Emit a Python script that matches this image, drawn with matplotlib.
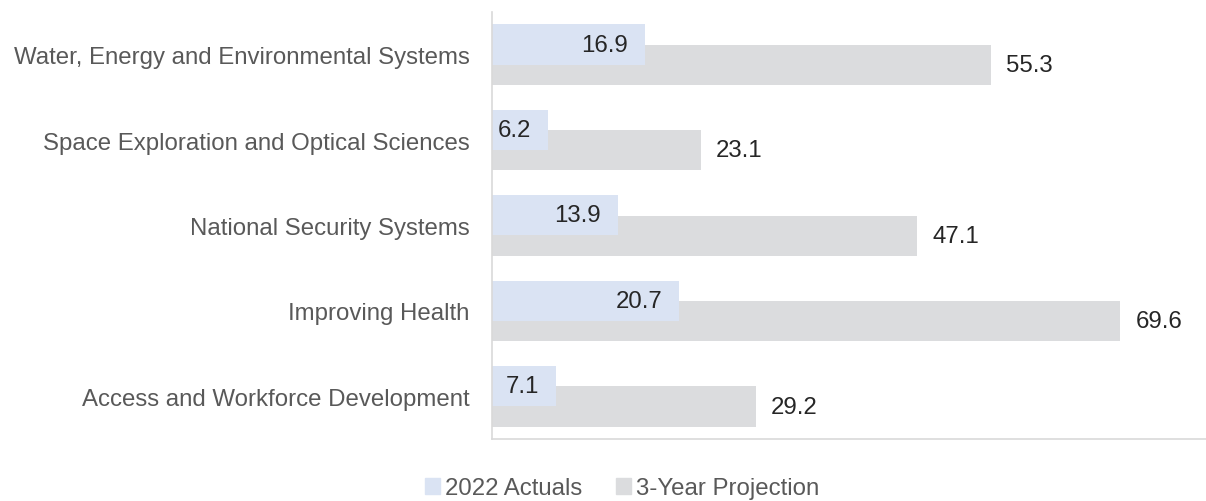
import numpy as np
import matplotlib.pyplot as plt
from matplotlib.patches import Patch

plt.rcParams['font.family'] = ['Liberation Sans', 'DejaVu Sans']

categories = ['Water, Energy and Environmental Systems',
              'Space Exploration and Optical Sciences',
              'National Security Systems',
              'Improving Health',
              'Access and Workforce Development']
actuals = [16.9, 6.2, 13.9, 20.7, 7.1]
projection = [55.3, 23.1, 47.1, 69.6, 29.2]
series_names = ['2022 Actuals', '3-Year Projection']

c_act = '#DAE3F3'
c_proj = '#DBDCDE'
c_label = '#595959'
c_value = '#262626'
fs = 17.3

fig = plt.figure(figsize=(12.06, 5.02), dpi=100)
ax = fig.add_axes([0.408, 0.1235, 0.592, 0.8505])

y = np.arange(len(categories))
h = 0.47
off = 0.12

ax.barh(y + off, projection, height=h, color=c_proj, zorder=1)
ax.barh(y - off, actuals, height=h, color=c_act, zorder=2)

for yi, v in zip(y, actuals):
    ax.annotate(f'{v:.1f}', (v, yi - off), xytext=(-12, 0), textcoords='offset points',
                ha='right', va='center', fontsize=fs, color=c_value, zorder=3)
for yi, v in zip(y, projection):
    ax.annotate(f'{v:.1f}', (v, yi + off), xytext=(11, 0), textcoords='offset points',
                ha='left', va='center', fontsize=fs, color=c_value, zorder=3)

ax.set_ylim(len(categories) - 0.5, -0.5)
ax.set_xlim(0, 79.1)
ax.set_yticks(y)
ax.set_yticklabels(categories, fontsize=fs, color=c_label)
ax.tick_params(axis='y', length=0, pad=16)
ax.set_xticks([])

for s in ['top', 'right']:
    ax.spines[s].set_visible(False)
for s in ['left', 'bottom']:
    ax.spines[s].set_color('#D9D9D9')
    ax.spines[s].set_linewidth(1.2)

handles = [Patch(color=c_act, label=series_names[0]),
           Patch(color=c_proj, label=series_names[1])]
leg = fig.legend(handles=handles, loc='center', bbox_to_anchor=(0.516, 0.025), ncol=2,
                 frameon=False, fontsize=fs, handlelength=0.63, handleheight=0.63,
                 handletextpad=0.2, columnspacing=1.4)
for t in leg.get_texts():
    t.set_color(c_label)

fig.savefig('out.png', dpi=100)
